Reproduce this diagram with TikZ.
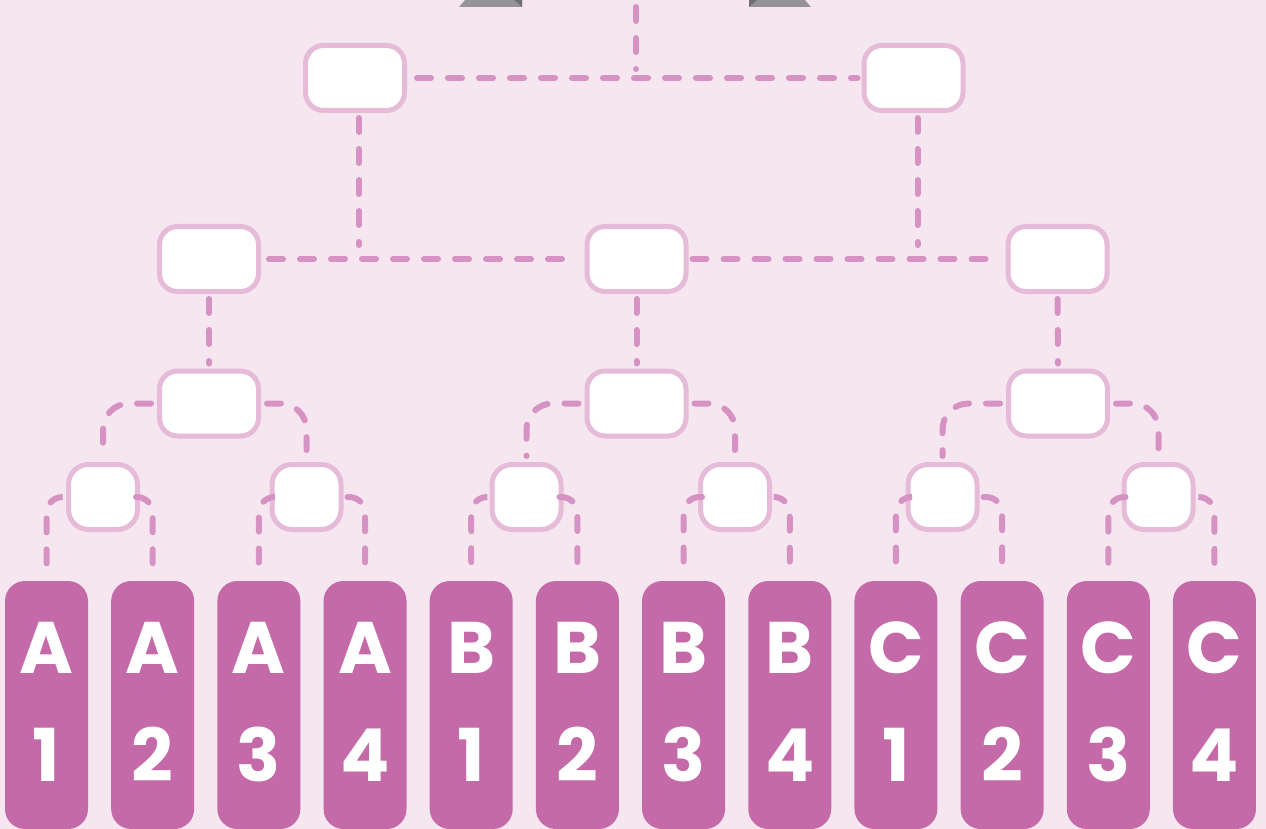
\documentclass[tikz,border=0pt]{standalone}
\usepackage{fontspec}
\newfontfamily\leaffont{Poppins}
\definecolor{bg}{HTML}{F6E6F0}
\definecolor{boxline}{HTML}{E6BBD7}
\definecolor{dashc}{HTML}{D692C3}
\definecolor{leaffill}{HTML}{C56AA8}
\definecolor{gray1}{HTML}{949497}
\definecolor{gray2}{HTML}{707073}
\begin{document}
\begin{tikzpicture}[x=1pt,y=-1pt,
  box/.style={draw=boxline, line width=5pt, fill=white, rounded corners=18pt, minimum width=99pt, minimum height=65pt, inner sep=0pt},
  smallbox/.style={box, minimum width=69pt, minimum height=65pt, rounded corners=20pt},
  leaf/.style={fill=leaffill, rounded corners=20pt, minimum width=83pt, minimum height=248pt, inner sep=0pt},
  conn/.style={draw=dashc, line width=6pt, line cap=round, dash pattern=on 14pt off 17pt},
  lbl/.style={text=white, font=\leaffont\bfseries\fontsize{73}{73}\selectfont, anchor=base, inner sep=0pt}]
\fill[bg] (0,0) rectangle (1266,829);
\useasboundingbox (0,0) rectangle (1266,829);
% top grey shapes
\fill[gray1] (459,7) -- (466,-1) -- (522,-1) -- (522,7) -- cycle;
\fill[gray2] (513,-1) -- (522,-1) -- (522,7) -- cycle;
\fill[gray1] (749,-1) -- (749,7) -- (811,7) -- (804,-1) -- cycle;
\fill[gray2] (749,-1) -- (758,-1) -- (749,7) -- cycle;
% nodes
\node[box] (A1) at (355,78) {};
\node[box] (A2) at (913.5,78) {};
\node[box] (B1) at (209,259) {};
\node[box] (B2) at (636.5,259) {};
\node[box] (B3) at (1057.5,259) {};
\node[box] (C1) at (209,403.5) {};
\node[box] (C2) at (636.5,403.5) {};
\node[box] (C3) at (1058,403.5) {};
\node[smallbox] (D1) at (103,497) {};
\node[smallbox] (D2) at (306.5,497) {};
\node[smallbox] (D3) at (526.5,497) {};
\node[smallbox] (D4) at (735,497) {};
\node[smallbox] (D5) at (942.5,497) {};
\node[smallbox] (D6) at (1158.5,497) {};
\foreach \i/\l/\n in {0/A/1,1/A/2,2/A/3,3/A/4,4/B/1,5/B/2,6/B/3,7/B/4,8/C/1,9/C/2,10/C/3,11/C/4}{
  \pgfmathsetmacro{\xx}{46.5+106.18*\i}
  \node[leaf] (L\i) at (\xx,705) {};
  \node[lbl] (T\i a) at (\xx,673) {\l};
  \node[lbl] (T\i b) at (\xx,781) {\n};
}
% connectors
\coordinate (top) at (636,0);
\draw[conn, shorten <=7pt, shorten >=9pt] (top) -- (top |- A1.east);
\draw[conn, shorten <=10pt, shorten >=4pt] (A1.east) -- (A2.west);
\draw[conn, shorten <=5pt, shorten >=14pt] ([xshift=4pt]A1.south) -- ([xshift=4pt]A1.south |- B1.east);
\draw[conn, shorten <=5pt, shorten >=14pt] ([xshift=4pt]A2.south) -- ([xshift=4pt]A2.south |- B1.east);
\draw[conn, shorten <=8pt, shorten >=6pt] (B1.east) -- (B2.west);
\draw[conn, shorten <=4pt, shorten >=6pt] (B2.east) -- (B3.west);
\draw[conn, shorten <=5pt, shorten >=5pt] (B1.south) -- (C1.north);
\draw[conn, shorten <=5pt, shorten >=5pt] (B2.south) -- (C2.north);
\draw[conn, shorten <=5pt, shorten >=5pt] (B3.south) -- (C3.north);
\foreach \c/\a/\b in {C1/D1/D2, C2/D3/D4, C3/D5/D6}{
  \draw[conn, rounded corners=26pt, shorten <=6pt, shorten >=6pt] (\c.west) -| (\a.north);
  \draw[conn, rounded corners=26pt, shorten <=6pt, shorten >=12pt] (\c.east) -| (\b.north);
}
\foreach \d/\p/\q in {D1/L0/L1, D2/L2/L3, D3/L4/L5, D4/L6/L7, D5/L8/L9, D6/L10/L11}{
  \draw[conn, rounded corners=16pt, shorten <=4pt, shorten >=9pt] (\d.west) -| (\p.north);
  \draw[conn, rounded corners=16pt, shorten <=4pt, shorten >=9pt] (\d.east) -| (\q.north);
}
\end{tikzpicture}
\end{document}
